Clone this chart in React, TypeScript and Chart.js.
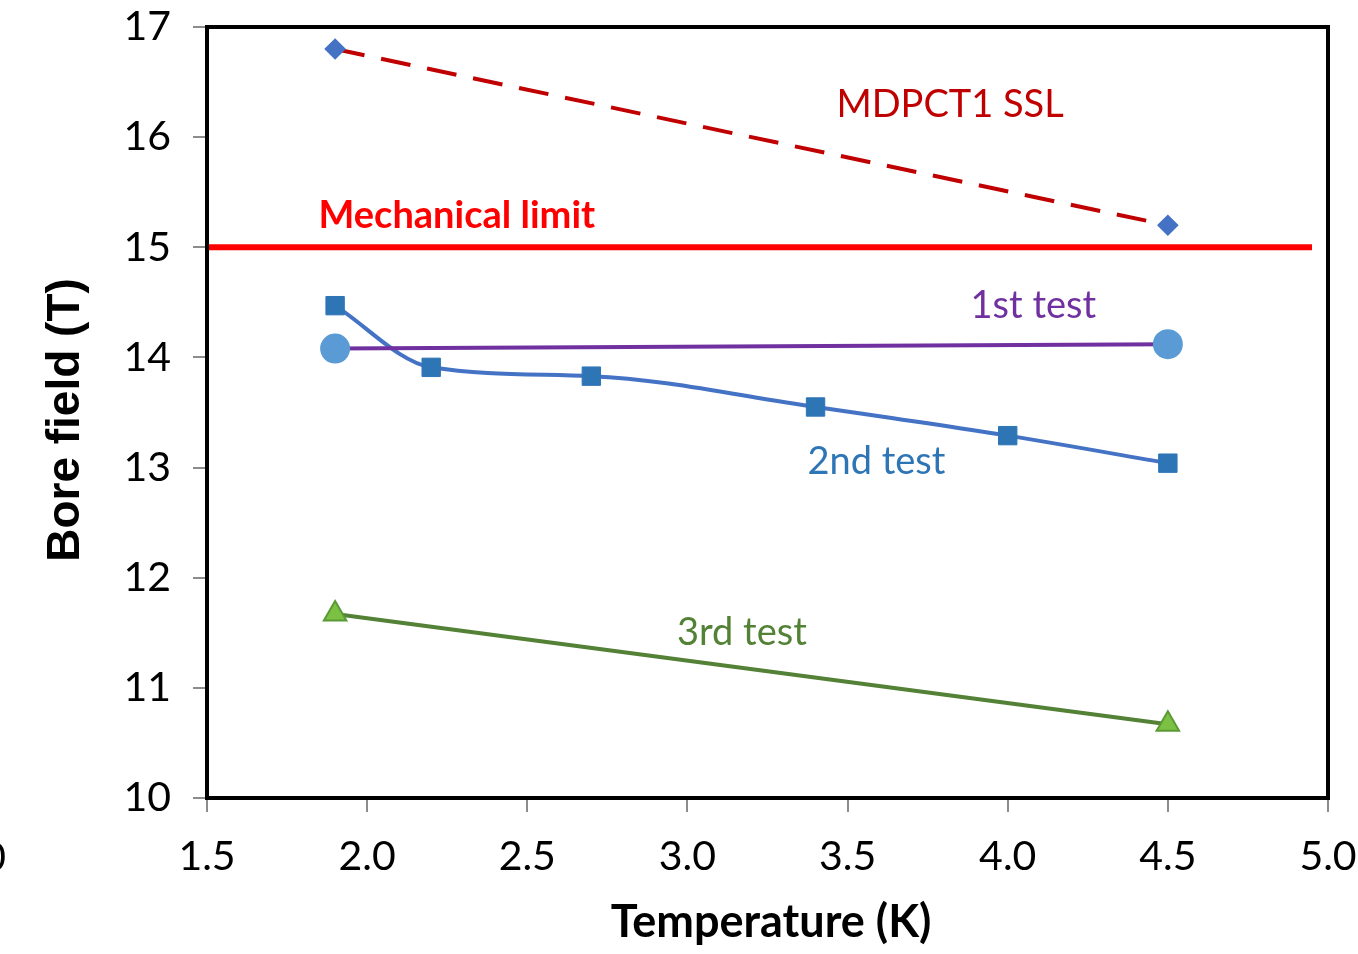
import React, { useEffect, useRef } from "react";
import { Chart, registerables } from "chart.js";

Chart.register(...registerables);

// ---- data ----
const xTicks = [1.5, 2.0, 2.5, 3.0, 3.5, 4.0, 4.5, 5.0];
const yTicks = [10, 11, 12, 13, 14, 15, 16, 17];

const ssl_T = [1.9, 4.5];
const ssl_B = [16.8, 15.2];

const limit_T = [1.5, 4.95];
const limit_B = [15.0, 15.0];

const test1_T = [1.9, 4.5];
const test1_B = [14.08, 14.12];

const test2_T = [1.9, 2.2, 2.7, 3.4, 4.0, 4.5];
const test2_B = [14.47, 13.91, 13.83, 13.55, 13.29, 13.04];

const test3_T = [1.9, 4.5];
const test3_B = [11.67, 10.67];

const labels = [
  { text: "MDPCT1 SSL", x: 3.82, y: 16.29, color: "#C00000", bold: false },
  { text: "Mechanical limit", x: 2.28, y: 15.29, color: "#FF0000", bold: true },
  { text: "1st test", x: 4.08, y: 14.47, color: "#7030A0", bold: false },
  { text: "2nd test", x: 3.59, y: 13.05, color: "#2E75B6", bold: false },
  { text: "3rd test", x: 3.17, y: 11.5, color: "#538135", bold: false },
];

const FONT = "Lato, 'Open Sans', sans-serif";

const pts = (xs: number[], ys: number[]) => xs.map((x, i) => ({ x, y: ys[i] }));

const overlayPlugin = {
  id: "overlay",
  afterDatasetsDraw(chart: any) {
    const { ctx, chartArea, scales } = chart;
    ctx.save();
    // frame
    ctx.strokeStyle = "#000";
    ctx.lineWidth = 4;
    ctx.strokeRect(chartArea.left, chartArea.top, chartArea.right - chartArea.left, chartArea.bottom - chartArea.top);
    // series labels
    ctx.textAlign = "center";
    ctx.textBaseline = "middle";
    for (const l of labels) {
      ctx.font = `${l.bold ? "bold " : ""}38px ${FONT}`;
      ctx.fillStyle = l.color;
      ctx.fillText(l.text, scales.x.getPixelForValue(l.x), scales.y.getPixelForValue(l.y));
    }
    ctx.restore();
  },
  afterDraw(chart: any) {
    const { ctx } = chart;
    ctx.save();
    ctx.fillStyle = "#000";
    ctx.textAlign = "center";
    ctx.textBaseline = "middle";
    ctx.font = `bold 45px ${FONT}`;
    ctx.fillText("Temperature (K)", 771, 922);
    ctx.translate(66, 420);
    ctx.rotate(-Math.PI / 2);
    ctx.font = `bold 46px 'Liberation Sans', Arial, sans-serif`;
    ctx.fillText("Bore field (T)", 0, 0);
    ctx.restore();
    ctx.save();
    ctx.font = `40px ${FONT}`;
    ctx.fillStyle = "#000";
    ctx.textAlign = "right";
    ctx.textBaseline = "middle";
    ctx.fillText("0", 6, 858);
    ctx.restore();
  },
};

export default function App() {
  const ref = useRef<HTMLCanvasElement>(null);
  useEffect(() => {
    if (!ref.current) return;
    const chart = new Chart(ref.current, {
      type: "scatter",
      data: {
        datasets: [
          {
            label: "Mechanical limit",
            data: pts(limit_T, limit_B),
            showLine: true,
            borderColor: "#FF0000",
            borderWidth: 6,
            pointRadius: 0,
          },
          {
            label: "MDPCT1 SSL",
            data: pts(ssl_T, ssl_B),
            showLine: true,
            borderColor: "#C00000",
            borderWidth: 4,
            borderDash: [30, 17],
            pointStyle: "rectRot",
            pointRadius: 8,
            pointBackgroundColor: "#4472C4",
            pointBorderColor: "#4472C4",
          },
          {
            label: "1st test",
            data: pts(test1_T, test1_B),
            showLine: true,
            borderColor: "#7030A0",
            borderWidth: 4,
            pointStyle: "circle",
            pointRadius: 13,
            pointBackgroundColor: "#5B9BD5",
            pointBorderColor: "#5B9BD5",
          },
          {
            label: "2nd test",
            data: pts(test2_T, test2_B),
            showLine: true,
            cubicInterpolationMode: "monotone",
            borderColor: "#4472C4",
            borderWidth: 4,
            pointStyle: "rect",
            pointRadius: 13,
            pointBackgroundColor: "#2E75B6",
            pointBorderColor: "#2E75B6",
            pointBorderWidth: 1,
          },
          {
            label: "3rd test",
            data: pts(test3_T, test3_B),
            showLine: true,
            borderColor: "#538135",
            borderWidth: 4,
            pointStyle: "triangle",
            pointRadius: 13,
            pointBackgroundColor: "#7CC143",
            pointBorderColor: "#5A9A35",
            pointBorderWidth: 2,
          },
        ],
      },
      options: {
        animation: false,
        responsive: false,
        layout: { padding: { top: 27, right: 30, left: 0, bottom: 0 } },
        plugins: { legend: { display: false }, tooltip: { enabled: false } },
        scales: {
          x: {
            type: "linear",
            min: 1.5,
            max: 5.0,
            afterBuildTicks: (s: any) => {
              s.ticks = xTicks.map((v) => ({ value: v }));
            },
            afterFit: (s: any) => {
              s.height = 954 - 798;
              s.paddingLeft = 0;
              s.paddingRight = 0;
            },
            ticks: {
              font: { family: FONT, size: 41 },
              color: "#000",
              padding: 20,
              maxRotation: 0,
              callback: (v: any) => Number(v).toFixed(1),
            },
            grid: { drawOnChartArea: false, drawTicks: true, tickLength: 14, color: "#8c8c8c", lineWidth: 2 },
            border: { display: true, color: "#000", width: 3 },
          },
          y: {
            type: "linear",
            min: 10,
            max: 17,
            afterBuildTicks: (s: any) => {
              s.ticks = yTicks.map((v) => ({ value: v }));
            },
            afterFit: (s: any) => {
              s.width = 207;
              s.paddingTop = 0;
              s.paddingBottom = 0;
            },
            ticks: {
              font: { family: FONT, size: 41 },
              color: "#000",
              padding: 22,
            },
            grid: { drawOnChartArea: false, drawTicks: true, tickLength: 14, color: "#8c8c8c", lineWidth: 2 },
            border: { display: true, color: "#000", width: 3 },
          },
        },
      },
      plugins: [overlayPlugin],
    });
    return () => chart.destroy();
  }, []);
  return (
    <div style={{ position: "absolute", left: 0, top: 0, width: 1358, height: 954, background: "#fff" }}>
      <canvas ref={ref} width={1358} height={954} style={{ width: 1358, height: 954 }} />
    </div>
  );
}
